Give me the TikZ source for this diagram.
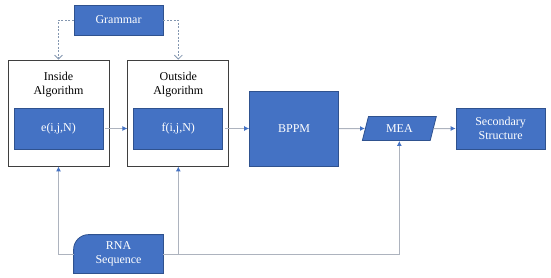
\documentclass[tikz,border=0pt]{standalone}
\usepackage{fontspec}
\setmainfont{Liberation Serif}
\usetikzlibrary{shapes.geometric,arrows.meta,positioning,backgrounds}
\definecolor{boxblue}{HTML}{4472C4}
\definecolor{boxedge}{HTML}{2F528F}
\definecolor{wiregray}{HTML}{ADB3BE}
\definecolor{dashgray}{HTML}{8497B0}
\definecolor{framegray}{HTML}{3F3F3F}

\begin{document}
\begin{tikzpicture}[
    x=1pt, y=1pt,
    font=\fontsize{12}{14}\selectfont,
    block/.style = {rectangle, draw=boxedge, line width=0.8pt, fill=boxblue, text=white, align=center, minimum width=89pt, minimum height=41pt, inner sep=2pt},
    algframe/.style = {rectangle, draw=framegray, line width=0.8pt, minimum width=101pt, minimum height=106pt},
    algtitle/.style = {align=center, inner sep=3pt},
    line/.style = {draw=wiregray, line width=1pt, -{Latex[length=5pt,width=5pt,color=boxblue]}},
    dashline/.style = {draw=dashgray, line width=0.8pt, dash pattern=on 2pt off 1.5pt, -{Straight Barb[length=4pt,width=8pt]}}
]
    \useasboundingbox (0,0) rectangle (551,-278);

    % Nodes
    \node [algframe] (inside) at (58.5,-113) {};
    \node [algframe, right=18pt of inside] (outside) {};
    \node [algtitle, below=9pt of inside.north] (insidetitle) {Inside\\Algorithm};
    \node [algtitle, below=9pt of outside.north] (outsidetitle) {Outside\\Algorithm};
    \node [block, above=17pt of inside.south] (eij) {e(i,j,N)};
    \node [block, above=17pt of outside.south] (fij) {f(i,j,N)};

    \node [block, minimum height=30pt] (grammar) at (118.5,-20) {Grammar};

    \node [block, minimum height=75pt, right=26pt of fij] (bppm) {BPPM};
    \node [block, trapezium, trapezium left angle=74, trapezium right angle=106, trapezium stretches=true, minimum width=74pt, minimum height=24pt, inner sep=1pt, right=26pt of bppm] (mea) {MEA};
    \node [block, right=22pt of mea] (ss) {Secondary\\Structure};

    \node [block, draw=none, fill=none, minimum height=38pt] (rna) at (118.5,-254) {RNA\\Sequence};
    \begin{scope}[on background layer]
        \filldraw [fill=boxblue, draw=boxedge, line width=0.8pt] (rna.south west) -- ([yshift=-15pt]rna.north west) arc[start angle=180, end angle=90, radius=15pt] -- (rna.north east) -- (rna.south east) -- cycle;
    \end{scope}

    % Edges
    \path [line, shorten <=2pt] (eij) -- (eij -| outside.west);
    \path [line, shorten <=2pt] (fij) -- (bppm);
    \path [line] (bppm) -- (mea);
    \path [line] (mea) -- (ss);

    \path [dashline] (grammar.west) -| (inside.north);
    \path [dashline] (grammar.east) -| (outside.north);

    \path [line] (rna.west) -| (inside.south);
    \path [line] (rna.east) -| (outside.south);
    \path [line] (rna.east) -| (mea.south);

\end{tikzpicture}
\end{document}
